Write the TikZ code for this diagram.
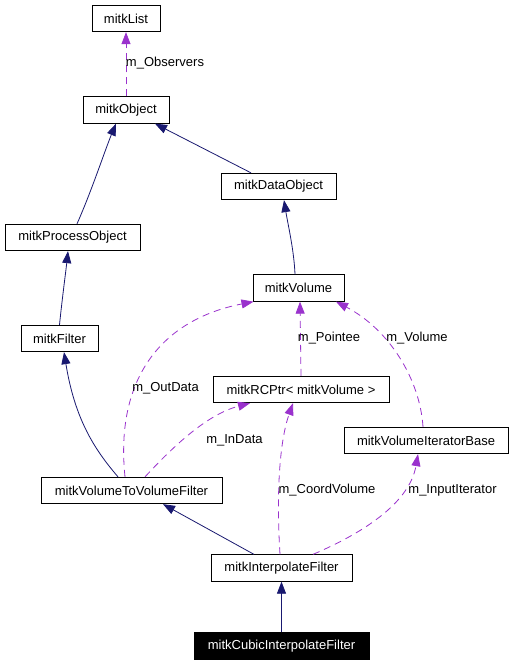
\documentclass[tikz,border=0pt]{standalone}
\usepackage{fontspec}
\setmainfont{Liberation Sans}
\usetikzlibrary{arrows.meta}
\definecolor{inhcol}{HTML}{191970}
\definecolor{usecol}{HTML}{9A32CD}
\begin{document}
\begin{tikzpicture}[x=1pt,y=-1pt,
  cls/.style={draw=black, fill=white, inner sep=0pt, line width=0.8pt,
    font=\fontsize{13}{15}\selectfont, minimum height=26.5pt},
  hilite/.style={cls, fill=black, text=white},
  inhedge/.style={draw=inhcol, line width=0.8pt, -{Triangle[length=12pt,width=9pt]}},
  useedge/.style={draw=usecol, line width=0.8pt, dash pattern=on 7pt off 5pt, -{Triangle[length=12pt,width=9pt]}},
  lbl/.style={inner sep=0pt, font=\fontsize{13}{15}\selectfont}]
\useasboundingbox (0,0) rectangle (528,664);
\fill[white] (0,0) rectangle (528,664);
% nodes
\node[cls, minimum width=68pt]  (List)   at (126,18.5)  {mitkList};
\node[cls, minimum width=86pt]  (Obj)    at (126,110)   {mitkObject};
\node[cls, minimum width=115pt] (DObj)   at (278.5,186.5) {mitkDataObject};
\node[cls, minimum width=135pt] (PObj)   at (72.5,237.5) {mitkProcessObject};
\node[cls, minimum width=91pt]  (Vol)    at (298.5,288) {mitkVolume};
\node[cls, minimum width=77pt]  (Filt)   at (59.5,338.5) {mitkFilter};
\node[cls, minimum width=176pt] (RCP)    at (301,389.5) {mitkRCPtr< mitkVolume >};
\node[cls, minimum width=164pt] (VIB)    at (426,440.5) {mitkVolumeIteratorBase};
\node[cls, minimum width=181pt] (V2V)    at (131.5,490.5) {mitkVolumeToVolumeFilter};
\node[cls, minimum width=141pt] (Interp) at (281.5,568) {mitkInterpolateFilter};
\node[hilite, minimum width=175pt] (Cubic) at (281.5,646) {mitkCubicInterpolateFilter};
% inheritance
\draw[inhedge] ([xshift=4.5pt]PObj.north) .. controls (92,190) and (105,150) .. ([xshift=-10pt]Obj.south);
\draw[inhedge] ([xshift=-27.5pt]DObj.north) -- ([xshift=29pt]Obj.south);
\draw[inhedge] (Filt.north) .. controls (62,300) and (66,270) .. ([xshift=-4.5pt]PObj.south);
\draw[inhedge] ([xshift=-3.5pt]Vol.north) .. controls (294,250) and (288,225) .. ([xshift=5.5pt]DObj.south);
\draw[inhedge] ([xshift=-13.5pt]V2V.north) .. controls (95,450) and (75,420) .. ([xshift=4.5pt]Filt.south);
\draw[inhedge] ([xshift=-27.5pt]Interp.north) -- ([xshift=31.5pt]V2V.south);
\draw[inhedge] (Cubic.north) -- (Interp.south);
% usage
\draw[useedge] (Obj.north) -- (List.south);
\node[lbl] (lObs) at (165,63) {m\_Observers};
\draw[useedge] ([xshift=-6.5pt]V2V.north) .. controls (115,380) and (160,320) .. ([xshift=-45pt]Vol.south);
\node[lbl] (lOut) at (165.5,388) {m\_OutData};
\draw[useedge] ([xshift=13.5pt]V2V.north) .. controls (170,450) and (205,415) .. ([xshift=-51pt]RCP.south);
\node[lbl] (lIn) at (234.5,440) {m\_InData};
\draw[useedge] (RCP.north) -- ([xshift=1.5pt]Vol.south);
\node[lbl] (lPt) at (329,338) {m\_Pointee};
\draw[useedge] ([xshift=-3pt]VIB.north) .. controls (420,380) and (390,330) .. ([xshift=37.5pt]Vol.south);
\node[lbl] (lVol) at (417,338) {m\_Volume};
\draw[useedge] ([xshift=-1.5pt]Interp.north) .. controls (276,490) and (280,440) .. ([xshift=-8pt]RCP.south);
\node[lbl] (lCV) at (327,490) {m\_CoordVolume};
\draw[useedge] ([xshift=31.5pt]Interp.north) .. controls (370,530) and (410,500) .. ([xshift=-8pt]VIB.south);
\node[lbl] (lII) at (452.5,490) {m\_InputIterator};
\end{tikzpicture}
\end{document}
